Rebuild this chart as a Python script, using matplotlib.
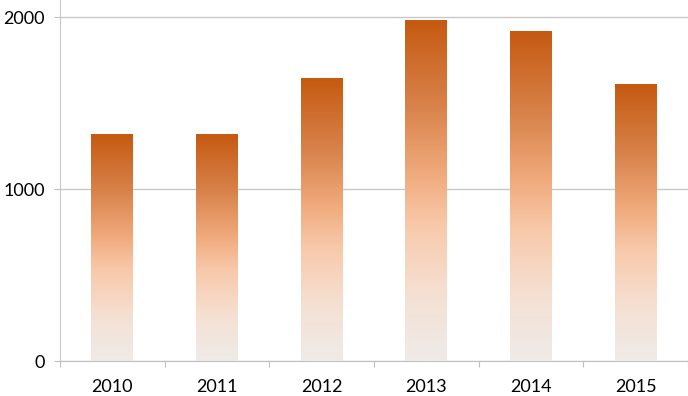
import numpy as np
import matplotlib
matplotlib.use("Agg")
import matplotlib.pyplot as plt
from matplotlib.colors import LinearSegmentedColormap

years = ["2010", "2011", "2012", "2013", "2014", "2015"]
values = [1314, 1314, 1645, 1977, 1913, 1610]
yticks = [0, 1000, 2000]

plt.rcParams['font.family'] = ['Lato', 'DejaVu Sans']

fig = plt.figure(figsize=(6.88, 3.96), dpi=100)
ax = fig.add_axes([60/688, 1-361/396, 1-60/688, 361/396])

x = np.arange(len(years))
bars = ax.bar(x, values, width=0.4, color='none', edgecolor='none', zorder=3)

cmap = LinearSegmentedColormap.from_list('grad', [
    (0.0, '#c55a11'),
    (0.25, '#d8824a'),
    (0.45, '#f0aa7c'),
    (0.6, '#f8c9aa'),
    (0.8, '#f5e0d2'),
    (1.0, '#efebe9'),
])
grad = np.linspace(0, 1, 256).reshape(-1, 1)
for b in bars:
    x0, y0 = b.get_x(), b.get_y()
    w, h = b.get_width(), b.get_height()
    ax.imshow(grad, cmap=cmap, aspect='auto', extent=[x0, x0 + w, y0, y0 + h],
              origin='upper', zorder=3, interpolation='bilinear')

ax.set_xlim(-0.5, len(years) - 0.5)
ax.set_ylim(0, 2000 * 361 / 344)
ax.set_yticks(yticks)
ax.set_yticklabels([str(v) for v in yticks], fontsize=13)
ax.set_xticks(np.arange(len(years) + 1) - 0.5)
ax.set_xticklabels([])
ax.set_xticks(x, minor=True)
ax.set_xticklabels(years, minor=True, fontsize=13)
ax.tick_params(axis='x', which='minor', length=0, pad=13)
ax.tick_params(axis='x', which='major', length=4, color='#bfbfbf', direction='out')
ax.tick_params(axis='y', length=4, color='#bfbfbf', pad=7)

ax.yaxis.grid(True, color='#c8c8c8', linewidth=1, zorder=0)
ax.set_axisbelow(True)
for s in ['top', 'right']:
    ax.spines[s].set_visible(False)
ax.spines['left'].set_color('#c8c8c8')
ax.spines['bottom'].set_color('#bfbfbf')

fig.savefig('out.png', dpi=100)
